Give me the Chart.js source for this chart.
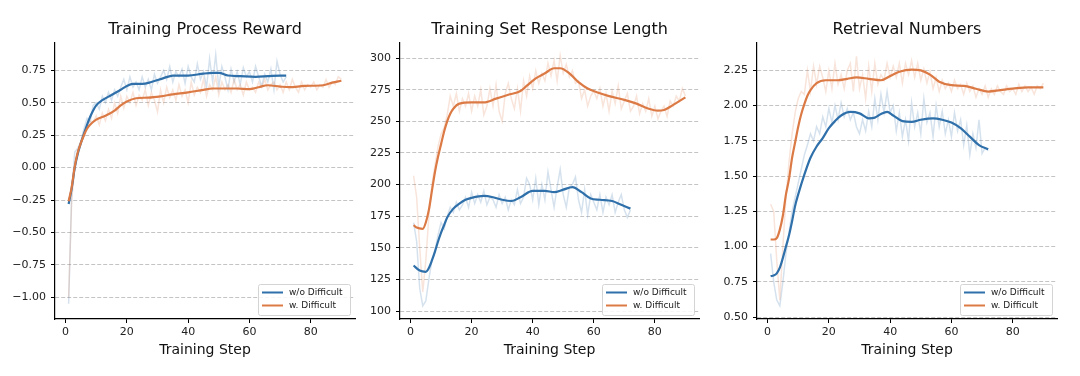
<!DOCTYPE html>
<html>
<head>
<meta charset="utf-8">
<script src="https://cdn.jsdelivr.net/npm/chart.js@4.4.1/dist/chart.umd.min.js"></script>
<style>
  body { margin: 0; background: #fff; }
  .panel { position: absolute; top: 0; width: 360px; height: 376px; }
</style>
</head>
<body>
<div class="panel" style="left:0px"><canvas id="reward" width="360" height="376"></canvas></div>
<div class="panel" style="left:360px"><canvas id="length" width="360" height="376"></canvas></div>
<div class="panel" style="left:720px"><canvas id="retrieval" width="360" height="376"></canvas></div>
<script>
const seriesNames = ["w/o Difficult", "w. Difficult"];
const chartTitles = ["Training Process Reward", "Training Set Response Length", "Retrieval Numbers"];
const xLabel = "Training Step";

// raw values, one per training step starting at step 1
const rewardRawWo = [
  -1.05,-0.20,0.12,0.15,0.20,0.30,0.38,0.35,0.48,0.50,
  0.45,0.55,0.50,0.58,0.52,0.60,0.55,0.62,0.68,0.60,
  0.70,0.62,0.66,0.60,0.70,0.62,0.68,0.60,0.72,0.65,
  0.70,0.75,0.68,0.78,0.66,0.74,0.70,0.76,0.65,0.78,
  0.70,0.66,0.80,0.68,0.74,0.62,0.84,0.66,0.87,0.62,
  0.78,0.70,0.60,0.76,0.66,0.74,0.64,0.77,0.70,0.74,
  0.66,0.78,0.70,0.63,0.72,0.66,0.76,0.60,0.82,0.72,
  0.66,0.70
];
const rewardRawW = [
  -1.00,-0.25,0.00,0.12,0.20,0.28,0.32,0.36,0.35,0.40,
  0.33,0.42,0.36,0.45,0.38,0.50,0.42,0.55,0.46,0.55,
  0.50,0.58,0.48,0.56,0.52,0.60,0.48,0.58,0.52,0.43,
  0.60,0.50,0.62,0.54,0.60,0.52,0.64,0.55,0.60,0.50,
  0.66,0.56,0.62,0.58,0.68,0.55,0.64,0.60,0.70,0.56,
  0.66,0.60,0.64,0.58,0.68,0.60,0.64,0.56,0.66,0.60,
  0.62,0.58,0.66,0.62,0.68,0.60,0.64,0.66,0.60,0.64,
  0.58,0.66,0.60,0.68,0.62,0.58,0.66,0.60,0.64,0.62,
  0.66,0.60,0.64,0.62,0.68,0.62,0.66,0.64,0.70,0.68
];
const rewardSmoothWoSteps = [1,2,3,4,5,6,7,8,9,10,12,15,18,20,22,25,28,32,35,40,45,48,50,53,57,62,66,70,72];
const rewardSmoothWo = [-0.28,-0.16,0.0,0.11,0.19,0.26,0.33,0.39,0.44,0.48,0.52,0.56,0.60,0.63,0.645,0.645,0.66,0.69,0.71,0.71,0.725,0.73,0.73,0.71,0.705,0.70,0.705,0.71,0.71];
const rewardSmoothWSteps = [1,2,3,4,5,6,7,8,10,13,16,18,20,23,27,31,35,40,45,48,52,56,60,63,66,70,73,78,84,87,90];
const rewardSmoothW = [-0.26,-0.15,0.01,0.12,0.19,0.25,0.30,0.33,0.37,0.40,0.44,0.48,0.51,0.535,0.54,0.55,0.565,0.58,0.60,0.61,0.61,0.61,0.605,0.62,0.635,0.625,0.62,0.63,0.635,0.655,0.67];

const lengthRawWo = [
  170,155,118,104,108,125,140,148,160,170,
  165,175,182,178,186,180,184,190,182,194,
  185,192,186,195,184,190,188,182,192,185,
  190,180,188,184,196,185,190,205,200,188,
  205,184,200,188,210,196,182,198,212,192,
  182,198,200,206,188,178,196,176,192,186,
  180,192,178,190,184,192,178,186,192,180,
  174,180
];
const lengthRawW = [
  207,190,150,115,140,175,200,215,230,240,
  245,255,270,262,272,258,268,262,272,258,
  270,262,275,255,262,276,262,279,258,250,
  272,280,268,260,276,258,282,270,286,276,
  290,280,288,282,296,286,298,282,302,288,
  295,285,290,280,282,268,275,262,270,274,
  268,276,262,272,258,274,264,278,260,266,
  272,258,262,270,256,264,258,268,254,262,
  252,258,262,254,266,262,270,266,276,270
];
const lengthSmoothWoSteps = [1,3,5,6,7,8,9,10,11,12,14,16,18,20,24,27,30,33,36,40,44,47,50,53,56,59,62,66,69,72];
const lengthSmoothWo = [136,132,131,134,140,147,155,162,168,174,181,185,188,189.5,191,190,188,187,190,195,195,194,196,198,194,189,188,187,184,181];
const lengthSmoothWSteps = [1,2,4,5,6,7,8,9,10,11,12,13,14,16,20,24,28,32,36,38,41,44,47,49,52,55,58,61,65,70,74,78,81,83,86,90];
const lengthSmoothW = [168,166,165,170,180,195,210,222,232,242,250,256,260,264,265,265,268,271,274,278,284,288,292,292,288,281,276,273,270,267,264,260,258.5,259,263,269];

const retrRawWo = [
  0.95,0.75,0.62,0.58,0.75,0.95,1.10,1.25,1.35,1.45,
  1.55,1.65,1.72,1.80,1.75,1.85,1.80,1.92,1.85,1.98,
  1.88,2.00,1.90,2.02,1.92,1.98,1.90,1.95,1.85,1.80,
  1.90,1.82,1.96,1.85,2.05,1.90,2.08,1.95,2.10,1.95,
  2.00,1.82,1.95,1.78,1.90,1.75,2.02,1.85,1.95,1.80,
  2.05,1.88,1.95,1.78,2.00,1.85,1.96,1.80,1.90,1.78,
  1.95,1.82,1.90,1.72,1.86,1.65,1.80,1.70,1.90,1.66,
  1.70,1.68
];
const retrRawW = [
  1.30,1.25,0.90,0.62,1.00,1.35,1.60,1.80,1.95,2.05,
  2.10,2.08,2.25,2.10,2.28,2.15,2.28,2.20,2.10,2.25,
  2.12,2.30,2.15,2.22,2.12,2.25,2.30,2.10,2.35,2.12,
  2.22,2.05,2.28,2.10,2.30,2.15,2.22,2.18,2.30,2.20,
  2.28,2.20,2.30,2.16,2.30,2.22,2.32,2.20,2.30,2.18,
  2.26,2.16,2.24,2.12,2.20,2.10,2.18,2.12,2.16,2.10,
  2.18,2.12,2.15,2.08,2.16,2.10,2.14,2.06,2.12,2.08,
  2.14,2.06,2.12,2.08,2.14,2.10,2.08,2.14,2.10,2.12,
  2.08,2.15,2.10,2.14,2.10,2.13,2.08,2.14,2.12,2.16
];
const retrSmoothWoSteps = [1,2,3,4,5,6,7,8,9,10,12,14,16,18,20,22,24,27,30,33,35,37,39,41,44,47,50,54,57,60,63,66,69,72];
const retrSmoothWo = [0.79,0.795,0.81,0.85,0.92,1.0,1.08,1.18,1.29,1.37,1.51,1.63,1.71,1.77,1.84,1.89,1.93,1.955,1.945,1.91,1.915,1.94,1.955,1.93,1.89,1.885,1.90,1.91,1.90,1.88,1.84,1.78,1.72,1.69];
const retrSmoothWSteps = [1,2,3,4,5,6,7,8,9,10,11,12,13,14,16,19,23,26,29,33,37,40,43,47,50,53,56,60,64,68,72,76,80,85,90];
const retrSmoothW = [1.05,1.05,1.06,1.12,1.22,1.37,1.48,1.63,1.74,1.85,1.94,2.01,2.07,2.11,2.16,2.18,2.18,2.19,2.20,2.19,2.18,2.21,2.24,2.255,2.25,2.22,2.17,2.145,2.14,2.12,2.10,2.11,2.12,2.13,2.13];

const blue = "#2f70aa";
const orange = "#dc7a45";
const blueFaint = "rgba(47,112,170,0.2)";
const orangeFaint = "rgba(220,122,69,0.2)";

Chart.defaults.font.family = "'DejaVu Sans', sans-serif";
Chart.defaults.color = "#222";

// legend drawn inside the plot, lower right, like matplotlib's
const insideLegend = {
  id: "insideLegend",
  afterDatasetsDraw(chart) {
    const { ctx, chartArea } = chart;
    const items = chart.data.datasets
      .filter(d => d.legendIndex !== undefined)
      .sort((a, b) => a.legendIndex - b.legendIndex);
    const w = 92, h = 31;
    const x = chartArea.right - 5 - w;
    const y = chartArea.bottom - 4 - h;
    ctx.save();
    ctx.fillStyle = "rgba(255,255,255,0.85)";
    ctx.strokeStyle = "#d4d4d4";
    ctx.lineWidth = 1;
    ctx.beginPath();
    ctx.roundRect(x + 0.5, y + 0.5, w, h, 2);
    ctx.fill();
    ctx.stroke();
    ctx.font = "9px 'DejaVu Sans'";
    ctx.textBaseline = "middle";
    items.forEach((d, i) => {
      const ly = y + 8.5 + i * 13;
      ctx.strokeStyle = d.borderColor;
      ctx.lineWidth = 2;
      ctx.beginPath();
      ctx.moveTo(x + 4, ly);
      ctx.lineTo(x + 25, ly);
      ctx.stroke();
      ctx.fillStyle = "#222";
      ctx.fillText(d.label, x + 31, ly);
    });
    ctx.restore();
  }
};

function toPoints(steps, values) {
  return values.map((v, i) => ({ x: steps ? steps[i] : i + 1, y: v }));
}

function makeChart(id, title, rawWo, rawW, smWoSteps, smWo, smWSteps, smW, opts) {
  const ctx = document.getElementById(id).getContext("2d");
  return new Chart(ctx, {
    type: "line",
    data: {
      datasets: [
        { label: seriesNames[0], legendIndex: 0, data: toPoints(smWoSteps, smWo), borderColor: blue, borderWidth: 2.2, pointRadius: 0, cubicInterpolationMode: "monotone", order: 1 },
        { label: seriesNames[1], legendIndex: 1, data: toPoints(smWSteps, smW), borderColor: orange, borderWidth: 2.2, pointRadius: 0, cubicInterpolationMode: "monotone", order: 0 },
        { label: seriesNames[0] + " raw", data: toPoints(null, rawWo), borderColor: blueFaint, borderWidth: 1.5, pointRadius: 0, tension: 0, order: 3 },
        { label: seriesNames[1] + " raw", data: toPoints(null, rawW), borderColor: orangeFaint, borderWidth: 1.5, pointRadius: 0, tension: 0, order: 2 }
      ]
    },
    options: {
      responsive: false,
      animation: false,
      layout: { padding: { left: 0, right: opts.right, top: 0, bottom: 0 } },
      plugins: {
        legend: { display: false },
        tooltip: { enabled: false },
        title: {
          display: true,
          text: title,
          fullSize: false,
          color: "#111",
          font: { size: 16, weight: "normal" },
          padding: { top: 20, bottom: 3 }
        }
      },
      scales: {
        x: {
          type: "linear",
          min: -3.45,
          max: 94.45,
          afterFit: s => { s.height = 57; },
          ticks: { stepSize: 20, includeBounds: false, padding: 3, font: { size: 11 }, color: "#222" },
          grid: { drawOnChartArea: false, tickLength: 4, tickColor: "#000", tickWidth: 1 },
          border: { display: true, color: "#000", width: 1.2 },
          title: { display: true, text: xLabel, font: { size: 14 }, color: "#111", padding: { top: 0, bottom: 17 } }
        },
        y: {
          min: opts.min,
          max: opts.max,
          afterFit: s => { s.width = opts.left; },
          ticks: {
            stepSize: opts.step,
            includeBounds: false,
            padding: 5,
            font: { size: 11 },
            color: "#222",
            callback: v => (v < 0 ? "\u2212" : "") + Math.abs(v).toFixed(opts.dec)
          },
          grid: { color: "#b5b5b5", lineWidth: 0.8, tickLength: 4, tickColor: "#000", tickWidth: 1 },
          border: { display: true, color: "#000", width: 1.2, dash: [4, 2] }
        }
      }
    },
    plugins: [insideLegend]
  });
}

makeChart("reward", chartTitles[0], rewardRawWo, rewardRawW, rewardSmoothWoSteps, rewardSmoothWo, rewardSmoothWSteps, rewardSmoothW,
  { min: -1.167, max: 0.967, step: 0.25, dec: 2, left: 55, right: 5 });
makeChart("length", chartTitles[1], lengthRawWo, lengthRawW, lengthSmoothWoSteps, lengthSmoothWo, lengthSmoothWSteps, lengthSmoothW,
  { min: 93.7, max: 312.6, step: 25, dec: 0, left: 40, right: 21 });
makeChart("retrieval", chartTitles[2], retrRawWo, retrRawW, retrSmoothWoSteps, retrSmoothWo, retrSmoothWSteps, retrSmoothW,
  { min: 0.486, max: 2.45, step: 0.25, dec: 2, left: 37, right: 23 });
</script>
</body>
</html>
